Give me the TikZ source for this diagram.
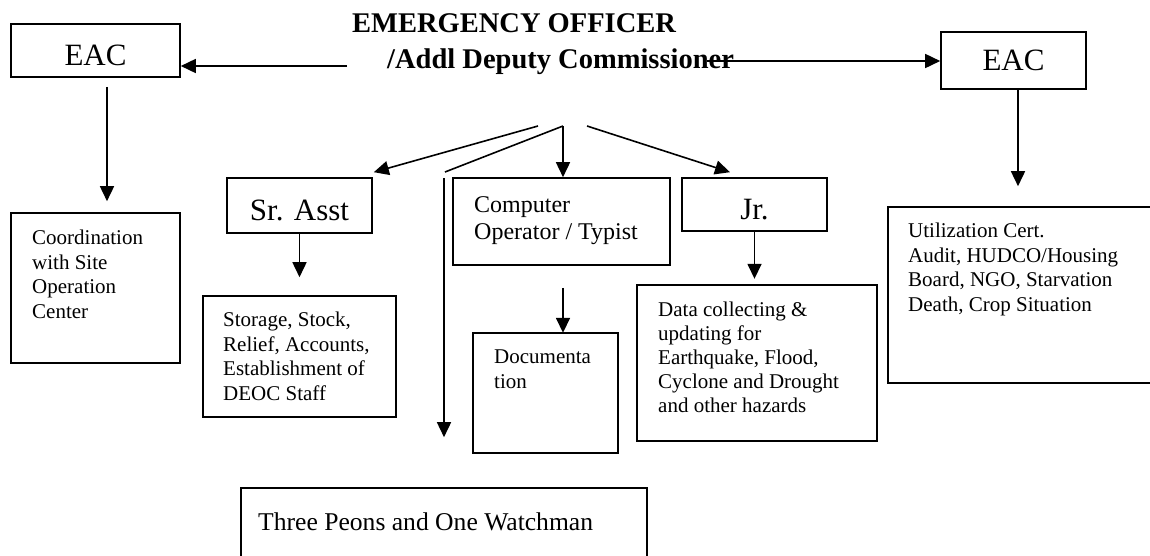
\documentclass[tikz,border=0pt]{standalone}
\usepackage{fontspec}
\setmainfont{Liberation Serif}
\usetikzlibrary{arrows.meta}

\begin{document}
\begin{tikzpicture}[
    x=1pt, y=-1pt,
    box/.style={draw, line width=1.6pt, inner sep=0pt},
    big/.style={box, font=\fontsize{31}{36}\selectfont, text height=29.5pt, text depth=0pt},
    title/.style={anchor=base west, inner sep=0pt, font=\fontsize{28.5}{32}\selectfont\bfseries},
    txt/.style={anchor=base west, inner sep=0pt, align=left, font=\fontsize{21}{24.4}\selectfont},
    arr/.style={-{Triangle[length=15pt,width=14pt]}, line width=1.6pt},
    link/.style={line width=1.6pt}
]

\useasboundingbox (0,0) rectangle (1150,555);

\node[title] (eo1) at (352,32) {EMERGENCY OFFICER};
\node[title] (eo2) at (387,68) {/Addl Deputy Commissioner};

\node[big, minimum width=169pt, minimum height=53pt] (eacL) at (95.5,50.5) {EAC};
\node[big, minimum width=145pt, minimum height=57pt, text height=20.5pt] (eacR) at (1013.5,60.5) {EAC};
\node[big, minimum width=145pt, minimum height=55pt] (srasst) at (299.5,205.5) {Sr. Asst};
\node[big, minimum width=145pt, minimum height=53pt] (jr) at (754.5,204.5) {Jr.};

\node[box, minimum width=169pt, minimum height=150pt] (coord) at (95.5,288) {};
\node[box, minimum width=193pt, minimum height=121pt] (storage) at (299.5,356.5) {};
\node[box, minimum width=217pt, minimum height=87pt] (comp) at (561.5,221.5) {};
\node[box, minimum width=145pt, minimum height=120pt] (doc) at (545.5,393) {};
\node[box, minimum width=240pt, minimum height=156pt] (data) at (757,363) {};
\node[box, minimum width=267pt, minimum height=176pt] (util) at (1021.5,295) {};
\node[box, minimum width=406pt, minimum height=72pt] (peons) at (444,524) {};

\node[txt] (coordTxt) at (32,318) {Coordination\\with Site\\Operation\\Center};
\node[txt] (storageTxt) at (223,400) {Storage, Stock,\\Relief, Accounts,\\Establishment of\\DEOC Staff};
\node[txt, font=\fontsize{24}{27}\selectfont] (compTxt) at (474,239) {Computer\\Operator / Typist};
\node[txt] (docTxt) at (494,388) {Documenta\\tion};
\node[txt, font=\fontsize{21}{23.8}\selectfont] (dataTxt) at (658,412) {Data collecting \&\\updating for\\Earthquake, Flood,\\Cyclone and Drought\\and other hazards};
\node[txt] (utilTxt) at (908,311) {Utilization Cert.\\Audit, HUDCO/Housing\\Board, NGO, Starvation\\Death, Crop Situation};
\node[txt, font=\fontsize{25.6}{30}\selectfont] (peonsTxt) at (258,530) {Three Peons and One Watchman};

\coordinate (eoL) at (347,66);
\coordinate (eoR) at (707,61);
\coordinate (fanL) at (538,126);
\coordinate (fanM) at (563,126);
\coordinate (fanR) at (587,126);
\coordinate (bend) at (445,172);
\coordinate (drop) at (444,178);

\draw[arr] (eoL) -- (eacL.east |- eoL);
\draw[arr] (eoR) -- (eacR.west |- eoR);

\draw[arr] ([xshift=11.5pt,yshift=-9pt]eacL.south) -- ([xshift=11.5pt,yshift=11pt]coord.north);
\draw[arr] ([xshift=4.5pt]eacR.south) -- ([xshift=-3.5pt,yshift=20pt]util.north);

\draw[arr] (fanL) -- ([shift={(1pt,5pt)}]srasst.north east);
\draw[arr] (fanM) -- (fanM |- comp.north);
\draw[arr] (fanR) -- ([shift={(-24.5pt,5pt)}]jr.north);
\draw[link] (fanM) -- (bend);
\draw[arr] (drop) -- ([yshift=50pt]peons.north);

\draw[arr] (srasst.south) -- ([yshift=18pt]storage.north);
\draw[arr] ([shift={(1.5pt,-22pt)}]comp.south) -- ++(0,45);
\draw[arr] (jr.south) -- ++(0,47);

\end{tikzpicture}
\end{document}
